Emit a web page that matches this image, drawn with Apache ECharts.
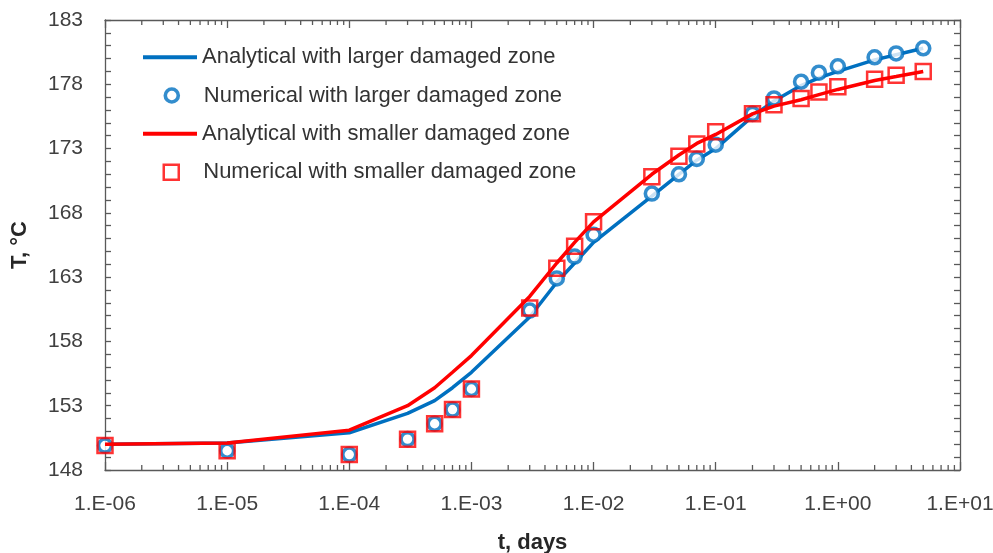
<!DOCTYPE html>
<html>
<head>
<meta charset="utf-8">
<script src="https://cdn.jsdelivr.net/npm/echarts@6/dist/echarts.min.js"></script>
<style>html,body{margin:0;padding:0;background:#fff;}#c{width:993px;height:553px;}</style>
</head>
<body>
<div id="c"></div>
<script>
// ---- data ----
const tDays = [1e-6, 1e-5, 1e-4, 3e-4, 5e-4, 7e-4, 1e-3, 3e-3, 5e-3, 7e-3, 1e-2, 3e-2, 5e-2, 7e-2, 0.1, 0.2, 0.3, 0.5, 0.7, 1, 2, 3, 5];
const analyticalLarger = [150.0, 150.1, 150.9, 152.4, 153.4, 154.4, 155.6, 159.9, 162.6, 164.1, 165.7, 169.3, 171.0, 172.1, 173.0, 175.5, 176.7, 177.9, 178.5, 179.0, 179.9, 180.3, 180.8];
const numericalLarger  = [149.9, 149.5, 149.2, 150.4, 151.6, 152.7, 154.3, 160.4, 162.9, 164.6, 166.3, 169.5, 171.0, 172.2, 173.3, 175.7, 176.9, 178.2, 178.9, 179.4, 180.1, 180.4, 180.8];
const analyticalSmaller = [150.0, 150.1, 151.1, 153.0, 154.4, 155.6, 156.9, 161.5, 164.1, 165.7, 167.3, 171.0, 172.5, 173.4, 174.1, 175.7, 176.3, 176.8, 177.2, 177.6, 178.3, 178.6, 179.0];
const numericalSmaller  = [149.9, 149.5, 149.2, 150.4, 151.6, 152.7, 154.3, 160.6, 163.7, 165.4, 167.3, 170.8, 172.4, 173.35, 174.3, 175.7, 176.4, 176.9, 177.4, 177.8, 178.4, 178.7, 179.0];
const seriesNames = ['Analytical with larger damaged zone', 'Numerical with larger damaged zone', 'Analytical with smaller damaged zone', 'Numerical with smaller damaged zone'];
const xTickLabels = ['1.E-06', '1.E-05', '1.E-04', '1.E-03', '1.E-02', '1.E-01', '1.E+00', '1.E+01'];
const xMin = 1e-6, xMax = 10;
const yMin = 148, yMax = 183, yStep = 5;
const xTitle = 't, days';
const yTitle = 'T, °C';

// minor tick positions of the log axis (2..9 x 10^n)
const minorTickT = [];
for (let e = -6; e < 1; e++) for (let k = 2; k <= 9; k++) minorTickT.push(k * Math.pow(10, e));

const pair = (xs, ys) => xs.map((x, i) => [x, ys[i]]);
const BLUE = '#0070C0', RED = '#FF0000', AX = '#595959';
const FONT = '"Liberation Sans", Arial, sans-serif';
const legendText = {fontFamily: FONT, fontSize: 22, color: '#333'};
const rowCenters = [56.7, 95, 133.3, 171.7];
const circleStyle = {color: '#fff', borderColor: BLUE, borderWidth: 3.6};
const squareStyle = {color: 'rgba(255,255,255,0)', borderColor: RED, borderWidth: 2.5};

function lineLegend(i) {
  return {orient: 'vertical', left: 143, top: rowCenters[i] - 10.5, padding: 0,
    itemWidth: 54, itemHeight: 4, textStyle: legendText,
    data: [{name: seriesNames[i], icon: 'rect'}]};
}
function markLegend(i, icon, size, style) {
  return {orient: 'vertical', left: 170 - size / 2, top: rowCenters[i] - 10.5, padding: 0,
    itemWidth: size, itemHeight: size,
    textStyle: Object.assign({padding: [0, 0, 0, 27 - size / 2]}, legendText),
    data: [{name: seriesNames[i], icon: icon, itemStyle: style}]};
}

const chart = echarts.init(document.getElementById('c'), null, {renderer: 'canvas'});
chart.setOption({
  animation: false,
  backgroundColor: '#fff',
  grid: {left: 105, right: 33, top: 20, bottom: 83, containLabel: false, outerBoundsMode: 'none'},
  legend: [lineLegend(0), markLegend(1, 'circle', 13, circleStyle), lineLegend(2), markLegend(3, 'rect', 15, squareStyle)],
  xAxis: [{
    type: 'log', logBase: 10, min: xMin, max: xMax, splitNumber: 7,
    position: 'bottom',
    name: xTitle, nameLocation: 'middle', nameGap: 62,
    nameTextStyle: {fontFamily: FONT, fontSize: 22, fontWeight: 'bold', color: '#262626'},
    axisLine: {lineStyle: {color: AX, width: 1.3}},
    axisTick: {inside: true, length: 8, lineStyle: {color: AX, width: 1.3}},
    axisLabel: {margin: 24, fontFamily: FONT, fontSize: 21, color: '#404040',
      formatter: v => xTickLabels[Math.round(Math.log10(v)) + 6]},
    splitLine: {show: false}
  }, {
    type: 'log', logBase: 10, min: xMin, max: xMax, splitNumber: 7,
    position: 'top',
    axisLine: {lineStyle: {color: AX, width: 1.3}},
    axisTick: {inside: true, length: 8, lineStyle: {color: AX, width: 1.3}},
    axisLabel: {show: false},
    splitLine: {show: false}
  }],
  yAxis: [{
    type: 'value', min: yMin, max: yMax, interval: yStep,
    name: yTitle, nameLocation: 'middle', nameGap: 74, nameRotate: 90,
    nameTextStyle: {fontFamily: FONT, fontSize: 22, fontWeight: 'bold', color: '#262626'},
    axisLine: {show: true, lineStyle: {color: AX, width: 1.3}},
    axisTick: {show: true, inside: true, length: 6, lineStyle: {color: AX, width: 1.3}},
    minorTick: {show: true, splitNumber: 5, length: 6, lineStyle: {color: AX, width: 1.3}},
    axisLabel: {margin: 22, fontFamily: FONT, fontSize: 21, color: '#404040'},
    splitLine: {show: false}
  }, {
    type: 'value', min: yMin, max: yMax, interval: yStep, position: 'right',
    axisLine: {show: true, lineStyle: {color: AX, width: 1.3}},
    axisTick: {show: true, inside: true, length: 6, lineStyle: {color: AX, width: 1.3}},
    minorTick: {show: true, splitNumber: 5, length: 6, lineStyle: {color: AX, width: 1.3}},
    axisLabel: {show: false},
    splitLine: {show: false}
  }],
  series: [{
    name: seriesNames[0], type: 'line', data: pair(tDays, analyticalLarger),
    symbol: 'none', smooth: false, lineStyle: {color: BLUE, width: 3.5}, itemStyle: {color: BLUE}, z: 2
  }, {
    name: seriesNames[1], type: 'scatter', data: pair(tDays, numericalLarger),
    symbol: 'circle', symbolSize: 13, itemStyle: circleStyle, z: 3
  }, {
    name: seriesNames[2], type: 'line', data: pair(tDays, analyticalSmaller),
    symbol: 'none', smooth: false, lineStyle: {color: RED, width: 3.5}, itemStyle: {color: RED}, z: 4
  }, {
    name: seriesNames[3], type: 'scatter', data: pair(tDays, numericalSmaller),
    symbol: 'rect', symbolSize: 15, itemStyle: squareStyle, z: 5
  }, {
    name: 'minorTicks', type: 'custom', silent: true, z: 1,
    data: minorTickT.map(t => [t, yMin]),
    renderItem: function (params, api) {
      const t = api.value(0);
      const b = api.coord([t, yMin]);
      const tp = api.coord([t, yMax]);
      const st = {stroke: AX, lineWidth: 1.3};
      return {type: 'group', children: [
        {type: 'line', shape: {x1: b[0], y1: b[1], x2: b[0], y2: b[1] - 5}, style: st},
        {type: 'line', shape: {x1: tp[0], y1: tp[1], x2: tp[0], y2: tp[1] + 5}, style: st}
      ]};
    }
  }]
});
</script>
</body>
</html>
